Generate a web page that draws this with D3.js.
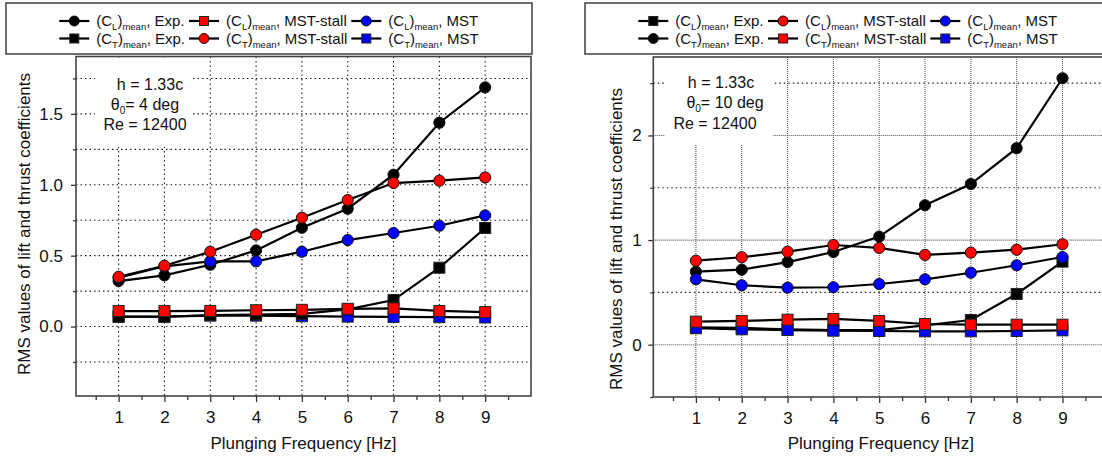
<!DOCTYPE html>
<html>
<head>
<meta charset="utf-8">
<script src="https://cdn.jsdelivr.net/npm/d3@7"></script>
<style>
  html, body { margin: 0; padding: 0; background: #fff; }
  svg { display: block; font-family: Arial, "Liberation Sans", sans-serif; }
</style>
</head>
<body>
<svg id="chart" width="1102" height="459"></svg>
<script>
// Plunging frequencies [Hz]
const freq = [1, 2, 3, 4, 5, 6, 7, 8, 9];

// Panel A: h = 1.33c, theta0 = 4 deg, Re = 12400
const a_CL_exp   = [0.321, 0.361, 0.436, 0.537, 0.697, 0.831, 1.071, 1.438, 1.687];
const a_CL_stall = [0.109, 0.109, 0.110, 0.115, 0.118, 0.125, 0.128, 0.110, 0.102];
const a_CL_mst   = [0.345, 0.425, 0.460, 0.460, 0.528, 0.610, 0.660, 0.711, 0.784];
const a_CT_exp   = [0.069, 0.069, 0.081, 0.085, 0.090, 0.121, 0.187, 0.415, 0.695];
const a_CT_stall = [0.351, 0.429, 0.528, 0.648, 0.768, 0.892, 1.012, 1.029, 1.052];
const a_CT_mst   = [0.070, 0.070, 0.077, 0.077, 0.073, 0.070, 0.068, 0.066, 0.064];

// Panel B: h = 1.33c, theta0 = 10 deg, Re = 12400
const b_CL_exp   = [0.166, 0.160, 0.147, 0.140, 0.140, 0.185, 0.236, 0.485, 0.794];
const b_CL_stall = [0.803, 0.836, 0.889, 0.953, 0.925, 0.858, 0.880, 0.908, 0.960];
const b_CL_mst   = [0.625, 0.568, 0.545, 0.549, 0.580, 0.625, 0.688, 0.759, 0.838];
const b_CT_exp   = [0.698, 0.717, 0.790, 0.886, 1.033, 1.333, 1.536, 1.878, 2.547];
const b_CT_stall = [0.220, 0.227, 0.239, 0.246, 0.227, 0.198, 0.191, 0.191, 0.191];
const b_CT_mst   = [0.157, 0.147, 0.140, 0.134, 0.131, 0.128, 0.128, 0.131, 0.137];

// Axis tick values
const xTicks = [1, 2, 3, 4, 5, 6, 7, 8, 9];
const xMinor = [0.5, 1.5, 2.5, 3.5, 4.5, 5.5, 6.5, 7.5, 8.5, 9.5];
const aYTicks = [0.0, 0.5, 1.0, 1.5];
const aYMinor = [-0.25, 0.25, 0.75, 1.25, 1.75];
const bYTicks = [0, 1, 2];
const bYMinor = [-0.5, 0.5, 1.5, 2.5];

const xTitle = "Plunging Frequency [Hz]";
const yTitle = "RMS values of lift and thrust coefficients";

const svg = d3.select("#chart");

function legendLabel(sel, coef, tail) {
  sel.append("tspan").text("(C");
  sel.append("tspan").attr("font-size", 9.5).attr("dy", 4).text(coef);
  sel.append("tspan").attr("dy", -4).text(")");
  sel.append("tspan").attr("font-size", 9.5).attr("dy", 4).text("mean");
  sel.append("tspan").attr("dy", -4).text(", " + tail);
}

function drawPanel(cfg) {
  const g = svg.append("g");
  const x = d3.scaleLinear().domain([0.07, 10]).range([cfg.left, cfg.left + 455]);
  const y = d3.scaleLinear().domain(cfg.yDomain).range([cfg.bottom, cfg.top]);
  const x0 = x.range()[0], x1 = x.range()[1];

  // legend box
  const lg = g.append("g");
  lg.append("rect")
    .attr("x", cfg.legendX).attr("y", 3)
    .attr("width", 526).attr("height", 51)
    .attr("fill", "#fff").attr("stroke", "#222").attr("stroke-width", 1.3);

  // grid
  const grid = g.append("g");
  cfg.hGrid.forEach(v => {
    grid.append("line")
      .attr("x1", x0).attr("x2", x1).attr("y1", y(v)).attr("y2", y(v))
      .attr("stroke", cfg.gridStyle(v).color)
      .attr("stroke-width", 1.1)
      .attr("stroke-dasharray", cfg.gridStyle(v).dash);
  });
  xTicks.forEach(v => {
    grid.append("line")
      .attr("x1", x(v)).attr("x2", x(v)).attr("y1", cfg.top).attr("y2", cfg.bottom)
      .attr("stroke", cfg.vGrid.color)
      .attr("stroke-width", 1.1)
      .attr("stroke-dasharray", cfg.vGrid.dash);
  });

  // white box behind the annotation
  g.append("rect")
    .attr("x", cfg.noteBox[0]).attr("y", cfg.top + 1)
    .attr("width", cfg.noteBox[1] - cfg.noteBox[0])
    .attr("height", cfg.noteBox[2] - cfg.top - 1)
    .attr("fill", "#fff");

  const note = g.append("g").attr("font-size", 16).attr("fill", "#111").attr("text-anchor", "middle");
  note.append("text").attr("x", cfg.noteX[0]).attr("y", cfg.noteY[0]).text("h = 1.33c");
  const th = note.append("text").attr("x", cfg.noteX[1]).attr("y", cfg.noteY[1]);
  th.append("tspan").text("\u03B8");
  th.append("tspan").attr("font-size", 10).attr("dy", 4).text("0");
  th.append("tspan").attr("dy", -4).text("= " + cfg.theta + " deg");
  note.append("text").attr("x", cfg.noteX[2]).attr("y", cfg.noteY[2]).text("Re = 12400");

  // axes
  const xAxis = d3.axisBottom(x).tickValues(xTicks).tickSize(6).tickSizeOuter(0).tickPadding(9)
    .tickFormat(d3.format("d"));
  const xg = g.append("g").attr("transform", `translate(0,${cfg.bottom})`).call(xAxis);
  const xMin = d3.axisBottom(x).tickValues(xMinor).tickSize(4).tickSizeOuter(0).tickFormat("");
  const xmg = g.append("g").attr("transform", `translate(0,${cfg.bottom})`).call(xMin);

  const yAxis = d3.axisLeft(y).tickValues(cfg.yTicks).tickSize(5).tickSizeOuter(0)
    .tickPadding(cfg.yPad).tickFormat(d3.format(cfg.yFmt));
  const yg = g.append("g").attr("transform", `translate(${x0},0)`).call(yAxis);
  const yMin = d3.axisLeft(y).tickValues(cfg.yMinor).tickSize(3).tickSizeOuter(0).tickFormat("");
  const ymg = g.append("g").attr("transform", `translate(${x0},0)`).call(yMin);

  [xg, xmg, yg, ymg].forEach(a => {
    a.select(".domain").remove();
    a.selectAll(".tick line").attr("stroke", "#333").attr("stroke-width", 1.3);
    a.selectAll("text").attr("font-size", 17).attr("fill", "#111")
      .attr("font-family", "Arial, 'Liberation Sans', sans-serif");
  });

  // frame
  g.append("rect")
    .attr("x", x0).attr("y", cfg.top)
    .attr("width", x1 - x0).attr("height", cfg.bottom - cfg.top)
    .attr("fill", "none").attr("stroke", "#444").attr("stroke-width", 1.6);

  // titles
  g.append("text")
    .attr("x", (x0 + x1) / 2).attr("y", 449)
    .attr("text-anchor", "middle").attr("font-size", 17).attr("fill", "#111")
    .text(xTitle);
  g.append("text")
    .attr("transform", `translate(${cfg.yTitleX},${cfg.yTitleY}) rotate(-90)`)
    .attr("text-anchor", "middle").attr("font-size", 17).attr("fill", "#111")
    .text(yTitle);

  // series
  const line = d3.line().x((d, i) => x(freq[i])).y(d => y(d));
  const plot = g.append("g");
  cfg.drawOrder.forEach(s => {
    plot.append("path").datum(s.values)
      .attr("d", line).attr("fill", "none")
      .attr("stroke", "#000").attr("stroke-width", 2.2);
    const m = plot.append("g");
    s.values.forEach((v, i) => {
      if (s.shape === "circle") {
        m.append("circle").attr("cx", x(freq[i])).attr("cy", y(v)).attr("r", 5.6)
          .attr("fill", s.color).attr("stroke", "#111").attr("stroke-width", 1);
      } else {
        m.append("rect").attr("x", x(freq[i]) - 5.5).attr("y", y(v) - 5.5)
          .attr("width", 11).attr("height", 11)
          .attr("fill", s.color).attr("stroke", "#222").attr("stroke-width", 1);
      }
    });
  });

  // legend entries (centred in the box, columns aligned)
  const rows = [cfg.legend.slice(0, 3), cfg.legend.slice(3, 6)];
  const rowY = [21, 38.5];
  const lineLen = 30, gapText = 7, gapNext = 4;
  const tmp = [];
  rows.forEach((row, r) => {
    row.forEach((s, c) => {
      const t = lg.append("text").attr("font-size", 15).attr("fill", "#111")
        .attr("y", rowY[r] + 5);
      legendLabel(t, s.coef, s.tail);
      tmp.push({ t, s, r, c, w: t.node().getComputedTextLength() });
    });
  });
  const colW = [0, 1, 2].map(c => d3.max(tmp.filter(d => d.c === c), d => d.w));
  const total = d3.sum(colW) + 3 * (lineLen + gapText) + 2 * gapNext;
  let startX = cfg.legendX + 263 - total / 2;
  const colX = [];
  colW.forEach((w, c) => { colX.push(startX); startX += lineLen + gapText + w + gapNext; });
  tmp.forEach(d => {
    const lx = colX[d.c], cy = rowY[d.r];
    lg.append("line").attr("x1", lx).attr("x2", lx + lineLen).attr("y1", cy).attr("y2", cy)
      .attr("stroke", "#000").attr("stroke-width", 2.2);
    if (d.s.shape === "circle") {
      lg.append("circle").attr("cx", lx + lineLen / 2).attr("cy", cy).attr("r", 5)
        .attr("fill", d.s.color).attr("stroke", "#111").attr("stroke-width", 1);
    } else {
      lg.append("rect").attr("x", lx + lineLen / 2 - 4.5).attr("y", cy - 4.5)
        .attr("width", 9).attr("height", 9)
        .attr("fill", d.s.color).attr("stroke", "#222").attr("stroke-width", 1);
    }
    d.t.attr("x", lx + lineLen + gapText);
  });
}

// Panel A series
const A = {
  CLexp:   { values: a_CL_exp,   shape: "circle", color: "#000000", coef: "L", tail: "Exp." },
  CLstall: { values: a_CL_stall, shape: "square", color: "#ff0000", coef: "L", tail: "MST-stall" },
  CLmst:   { values: a_CL_mst,   shape: "circle", color: "#0000ff", coef: "L", tail: "MST" },
  CTexp:   { values: a_CT_exp,   shape: "square", color: "#000000", coef: "T", tail: "Exp." },
  CTstall: { values: a_CT_stall, shape: "circle", color: "#ff0000", coef: "T", tail: "MST-stall" },
  CTmst:   { values: a_CT_mst,   shape: "square", color: "#0000ff", coef: "T", tail: "MST" }
};
// Panel B series
const B = {
  CLexp:   { values: b_CL_exp,   shape: "square", color: "#000000", coef: "L", tail: "Exp." },
  CLstall: { values: b_CL_stall, shape: "circle", color: "#ff0000", coef: "L", tail: "MST-stall" },
  CLmst:   { values: b_CL_mst,   shape: "circle", color: "#0000ff", coef: "L", tail: "MST" },
  CTexp:   { values: b_CT_exp,   shape: "circle", color: "#000000", coef: "T", tail: "Exp." },
  CTstall: { values: b_CT_stall, shape: "square", color: "#ff0000", coef: "T", tail: "MST-stall" },
  CTmst:   { values: b_CT_mst,   shape: "square", color: "#0000ff", coef: "T", tail: "MST" }
};

const coarse = { color: "#222", dash: "1.5,3" };
const fine = { color: "#555", dash: "1,1" };

drawPanel({
  left: 76, top: 56.5, bottom: 396, yDomain: [-0.49, 1.905],
  legendX: 6,
  hGrid: [-0.25, 0, 0.25, 0.5, 0.75, 1.0, 1.25, 1.5, 1.75],
  gridStyle: () => coarse, vGrid: coarse,
  yTicks: aYTicks, yMinor: aYMinor, yFmt: ".1f", yPad: 8,
  noteBox: [95, 193, 147], noteX: [150, 145, 145], noteY: [89.5, 109.5, 130], theta: 4,
  yTitleX: 30, yTitleY: 224,
  legend: [A.CLexp, A.CLstall, A.CLmst, A.CTexp, A.CTstall, A.CTmst],
  drawOrder: [A.CLexp, A.CTmst, A.CTexp, A.CLmst, A.CLstall, A.CTstall]
});

drawPanel({
  left: 653.3, top: 57, bottom: 397, yDomain: [-0.5, 2.75],
  legendX: 585,
  hGrid: [0, 0.5, 1, 1.5, 2, 2.5],
  gridStyle: v => (Number.isInteger(v) ? fine : coarse), vGrid: fine,
  yTicks: bYTicks, yMinor: bYMinor, yFmt: "d", yPad: 6.5,
  noteBox: [665, 773, 145], noteX: [721, 725, 715], noteY: [87.5, 108, 128.5], theta: 10,
  yTitleX: 622, yTitleY: 239,
  legend: [B.CLexp, B.CLstall, B.CLmst, B.CTexp, B.CTstall, B.CTmst],
  drawOrder: [B.CTexp, B.CLexp, B.CTmst, B.CLmst, B.CTstall, B.CLstall]
});
</script>
</body>
</html>
